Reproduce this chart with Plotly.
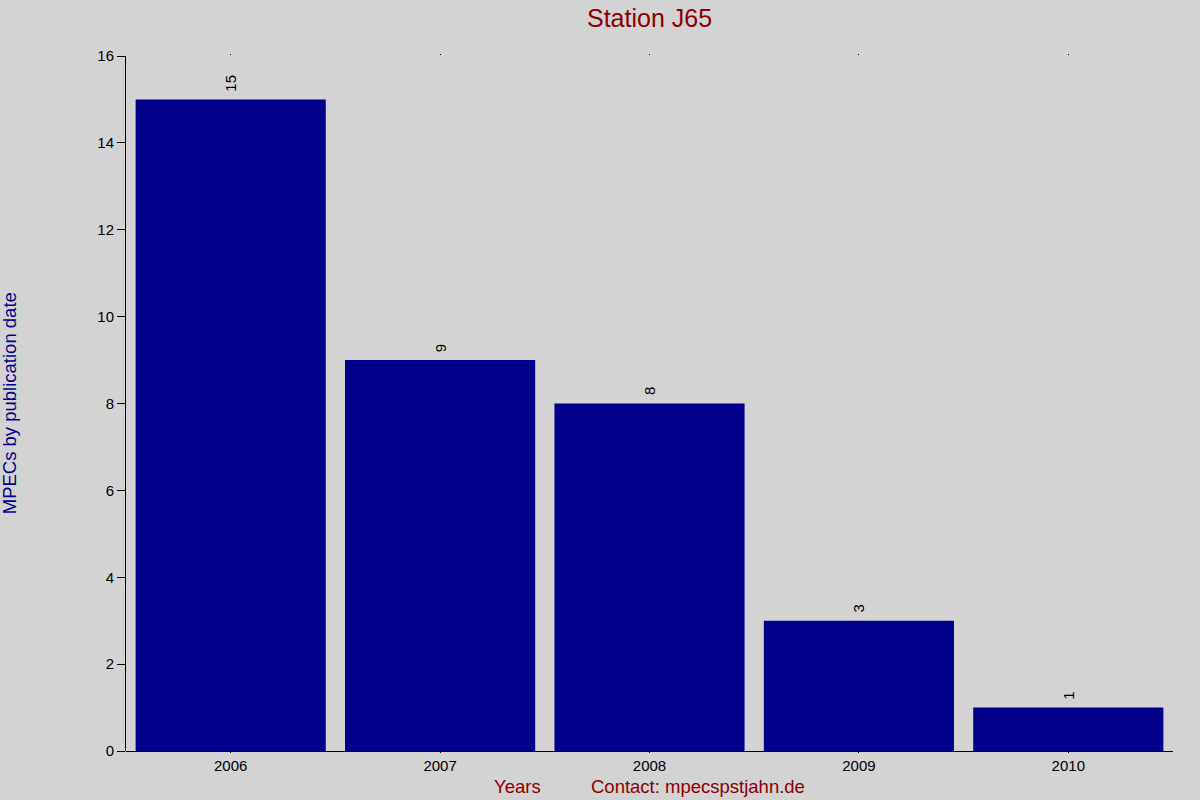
import plotly.graph_objects as go

years = ["2006", "2007", "2008", "2009", "2010"]
counts = [15, 9, 8, 3, 1]
y_ticks = [0, 2, 4, 6, 8, 10, 12, 14, 16]

fig = go.Figure()
fig.add_trace(go.Bar(
    x=years, y=counts,
    marker=dict(color="#00008B", line=dict(width=0)),
    hoverinfo="x+y",
))

label_annotations = [
    dict(x=i, y=c, xref="x", yref="y", text=str(c), textangle=-90,
         showarrow=False, yanchor="bottom", xanchor="center", yshift=6,
         font=dict(family="Liberation Sans, Arial", size=15, color="black"))
    for i, c in enumerate(counts)
]

fig.update_layout(
    width=1200, height=800,
    paper_bgcolor="#D3D3D3", plot_bgcolor="#D3D3D3",
    margin=dict(l=126, r=27, t=56, b=49),
    bargap=0.092,
    showlegend=False,
    font=dict(family="Liberation Sans, Arial", size=15, color="black"),
    title=dict(text="Station J65", xref="paper", x=0.5, xanchor="center", y=0.977, yanchor="middle",
               font=dict(size=25, color="#8B0000")),
    xaxis=dict(type="category", categoryarray=years, range=[-0.5, len(years) - 0.5],
               showline=False, showgrid=False, zeroline=False,
               ticks="outside", ticklen=1, tickcolor="black", mirror="ticks",
               tickfont=dict(size=15), ticklabelstandoff=0),
    yaxis=dict(range=[0, 16], tickvals=y_ticks, showline=True, linecolor="black", linewidth=1,
               ticks="outside", ticklen=8, tickcolor="black", showgrid=False,
               zeroline=True, zerolinecolor="black", zerolinewidth=1,
               tickfont=dict(size=15)),
    annotations=label_annotations + [
        dict(text="MPECs by publication date", xref="paper", yref="paper",
             x=-0.111, y=0.5, xanchor="center", yanchor="middle", textangle=-90,
             showarrow=False, font=dict(size=18.5, color="#00008B")),
        dict(text="Years", xref="paper", yref="paper", x=0.3735, y=-0.0505,
             xanchor="center", yanchor="middle", showarrow=False,
             font=dict(size=18.5, color="#8B0000")),
        dict(text="Contact: mpecspstjahn.de", xref="paper", yref="paper", x=0.5465, y=-0.0505,
             xanchor="center", yanchor="middle", showarrow=False,
             font=dict(size=18.5, color="#8B0000")),
    ],
)

fig.write_html("out.html", config={"displayModeBar": False},
               post_script="document.body.style.margin='0';document.body.style.overflow='hidden';")
